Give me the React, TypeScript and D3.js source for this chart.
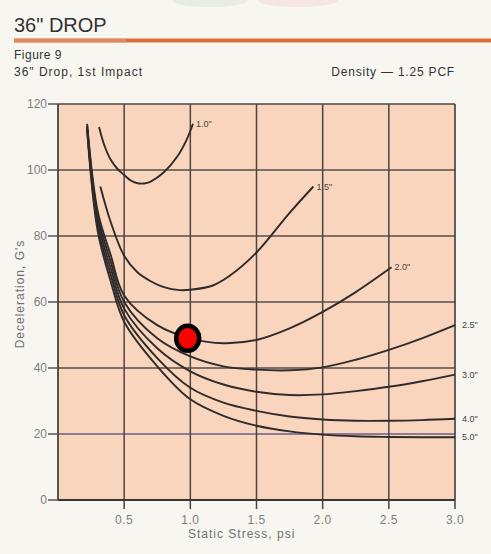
import React from "react";
import * as d3 from "d3";

const xTicks = [0.5, 1.0, 1.5, 2.0, 2.5, 3.0];
const xTickLabels = ["0.5", "1.0", "1.5", "2.0", "2.5", "3.0"];
const yTicks = [0, 20, 40, 60, 80, 100, 120];

const curve10: [number, number][] = [[0.31,113],[0.35,107.5],[0.4,103],[0.45,100.3],[0.5,98.5],[0.55,96.8],[0.6,96],[0.65,95.9],[0.7,96.5],[0.8,99.3],[0.9,104],[0.97,109],[1.02,114]];
const curve15: [number, number][] = [[0.32,95],[0.4,84],[0.5,74],[0.6,69],[0.7,66.3],[0.8,64.5],[0.92,63.6],[1.0,63.7],[1.17,65],[1.3,68],[1.5,75],[1.75,87],[1.93,95]];
const curve20: [number, number][] = [[0.22,114],[0.3,87.5],[0.4,74],[0.5,62],[0.75,53],[1.0,49],[1.25,47.5],[1.5,48.5],[1.75,52],[2.0,57],[2.25,63],[2.52,70.5]];
const curve25: [number, number][] = [[0.22,113.5],[0.3,86],[0.4,72],[0.5,60],[0.75,49],[1.0,43.5],[1.25,40.5],[1.5,39.5],[1.75,39.3],[2.0,40.2],[2.25,42.5],[2.5,45.5],[2.75,49],[3.0,53]];
const curve30: [number, number][] = [[0.22,113],[0.3,84.5],[0.4,70],[0.5,58],[0.75,46],[1.0,39],[1.25,35],[1.5,32.8],[1.75,31.8],[2.0,32],[2.25,33],[2.5,34.3],[2.75,36],[3.0,38]];
const curve40: [number, number][] = [[0.22,112.5],[0.3,83],[0.4,68],[0.5,56],[0.75,43],[1.0,34],[1.25,29.5],[1.5,27],[1.75,25.3],[2.0,24.4],[2.25,24],[2.5,24],[2.75,24.2],[3.0,24.6]];
const curve50: [number, number][] = [[0.22,112],[0.3,81.5],[0.4,66],[0.5,54],[0.75,40.5],[1.0,30.5],[1.25,25.5],[1.5,22.5],[1.75,20.8],[2.0,19.8],[2.25,19.3],[2.5,19.1],[2.75,19],[3.0,19]];

const curveNames = ["1.0\"", "1.5\"", "2.0\"", "2.5\"", "3.0\"", "4.0\"", "5.0\""];
const curves = [curve10, curve15, curve20, curve25, curve30, curve40, curve50];
const marker = { x: 0.98, y: 49 };

export default function App() {
  const left = 58, right = 455, top = 104, bottom = 500;
  const x = d3.scaleLinear().domain([0, 3]).range([left, right]);
  const y = d3.scaleLinear().domain([0, 120]).range([bottom, top]);
  const line = d3.line<[number, number]>().x(d => x(d[0])).y(d => y(d[1])).curve(d3.curveCatmullRom.alpha(0.5));
  const font = "'Liberation Sans', Arial, sans-serif";
  const labelPos = (c: [number, number][], i: number) => {
    const last = c[c.length - 1];
    const px = x(last[0]);
    const py = y(last[1]);
    if (i <= 2) return { lx: px + 3, ly: py + 3 };
    return { lx: px + 7, ly: py + 3 };
  };
  return (
    <svg width={491} height={554} style={{ position: "absolute", left: 0, top: 0, background: "#f8f6f0" }}>
      <rect x={0} y={0} width={491} height={554} fill="#f8f6f0" />
      <ellipse cx={210} cy={0} rx={38} ry={7} fill="#d6e4d8" opacity={0.5} />
      <ellipse cx={298} cy={0} rx={40} ry={7} fill="#f2d6d8" opacity={0.5} />
      <text x={14} y={32} fontFamily={font} fontSize={20} fill="#333">36" DROP</text>
      <rect x={14} y={38.5} width={477} height={4} fill="#d8703c" />
      <rect x={14} y={38.5} width={112} height={4} fill="#e09a72" opacity={0.6} />
      <text x={14} y={59} fontFamily={font} fontSize={12} letterSpacing={0.5} fill="#333">Figure 9</text>
      <text x={14} y={76} fontFamily={font} fontSize={12} letterSpacing={1} fill="#333">36" Drop, 1st Impact</text>
      <text x={455} y={76} textAnchor="end" fontFamily={font} fontSize={12} letterSpacing={0.8} fill="#333">Density — 1.25 PCF</text>

      <rect x={left} y={top} width={right - left} height={bottom - top} fill="#f9d5be" />
      {yTicks.filter(t => t > 0 && t < 120).map(t => (
        <line key={"gy" + t} x1={left} x2={right} y1={y(t)} y2={y(t)} stroke={t === 20 ? "#6a5c88" : "#554d4a"} strokeWidth={1.7} />
      ))}
      {xTicks.filter(t => t < 3).map(t => (
        <line key={"gx" + t} x1={x(t)} x2={x(t)} y1={top} y2={bottom} stroke="#4a4442" strokeWidth={1.5} />
      ))}
      <line x1={left} x2={right} y1={top} y2={top} stroke="#4a4644" strokeWidth={1.7} />
      <line x1={right} x2={right} y1={top} y2={bottom} stroke="#4a4644" strokeWidth={1.7} />
      <line x1={left} x2={left} y1={top} y2={bottom} stroke="#3c3836" strokeWidth={1.7} />
      <line x1={left} x2={right} y1={bottom} y2={bottom} stroke="#3a3634" strokeWidth={2.2} />

      {yTicks.map(t => (
        <g key={"ty" + t}>
          <line x1={left - 10} x2={left} y1={y(t)} y2={y(t)} stroke="#555" strokeWidth={1.5} />
          <text x={left - 11} y={y(t) + 4} textAnchor="end" fontFamily={font} fontSize={12} fill="#808080">{t}</text>
        </g>
      ))}
      {xTicks.map((t, i) => (
        <g key={"tx" + t}>
          <line x1={x(t)} x2={x(t)} y1={bottom} y2={bottom + 9} stroke="#444" strokeWidth={1.5} />
          <text x={x(t)} y={bottom + 24} textAnchor="middle" fontFamily={font} fontSize={12} letterSpacing={0.5} fill="#808080">{xTickLabels[i]}</text>
        </g>
      ))}
      <text x={188} y={538} fontFamily={font} fontSize={12} letterSpacing={1} fill="#707070">Static Stress, psi</text>
      <text transform={`translate(24, 294) rotate(-90)`} textAnchor="middle" fontFamily={font} fontSize={12} letterSpacing={1} fill="#707070">Deceleration, G's</text>

      {curves.map((c, i) => (
        <path key={"c" + i} d={line(c) || ""} fill="none" stroke="#2e2b2a" strokeWidth={1.9} />
      ))}
      {curves.map((c, i) => {
        const p = labelPos(c, i);
        return <text key={"l" + i} x={p.lx} y={p.ly} fontFamily={font} fontSize={9} fill="#444">{curveNames[i]}</text>;
      })}

      <ellipse cx={x(marker.x)} cy={y(marker.y)} rx={11.5} ry={12.5} fill="#ff0000" stroke="#000" strokeWidth={4.5} />
    </svg>
  );
}
